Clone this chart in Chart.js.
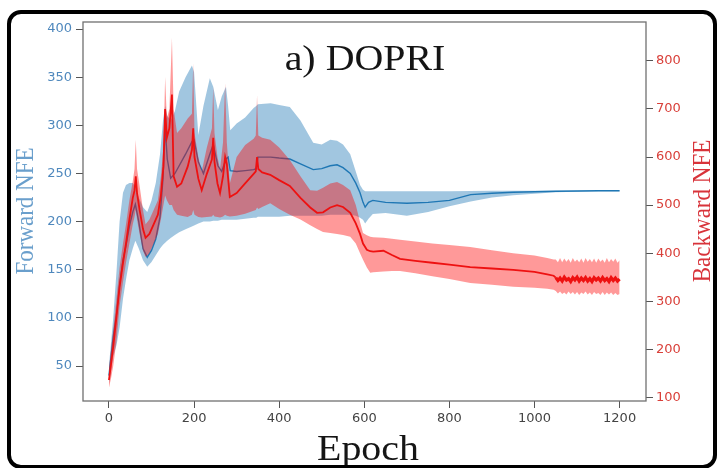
<!DOCTYPE html>
<html><head><meta charset="utf-8">
<script src="https://cdn.jsdelivr.net/npm/chart.js@4.4.1/dist/chart.umd.min.js"></script>
<style>html,body{margin:0;padding:0;background:#fff;}canvas{display:block;}</style>
</head><body>
<canvas id="c" width="718" height="468"></canvas>
<script>
const xTicks = [0, 200, 400, 600, 800, 1000, 1200];
const leftTicks = [50, 100, 150, 200, 250, 300, 350, 400];
const rightTicks = [100, 200, 300, 400, 500, 600, 700, 800];

const fwdEpochs = [0,5,10,18,25,33,40,48,56,62,70,80,90,100,110,120,127,132,137,145,155,165,180,195,200,210,222,237,245,256,265,275,280,285,300,320,340,346,350,380,400,425,450,480,500,520,536,550,567,580,590,597,602,610,620,650,700,750,800,850,900,950,1000,1050,1100,1150,1200];
const fwdMean = [40,60,80,105,135,160,175,195,210,218,200,172,163,170,182,205,245,298,265,245,250,258,270,283,285,262,250,270,280,258,252,265,267,253,252,253,254,255,267,267,266,265,260,254,255,258,259,256,250,240,230,220,215,220,222,220,219,220,222,228,229.5,230.5,231,231.5,231.8,232,232];
const fwdLow = [32,45,60,72,90,120,140,160,172,180,172,160,153,158,165,172,176,178,180,183,186,189,192,195,196,198,200,200,201,201,202,202,202,202,202,203,204,204,205,205,205,206,206,206,206,207,207,207,207,206,204,202,198,203,208,209,206,210,216,221,225,227.5,229,230.5,231,231.5,231.5];
const fwdHigh = [50,75,100,150,200,230,238,240,240,236,225,215,210,222,240,270,305,320,310,305,315,335,350,362,355,290,320,349,340,316,330,340,320,295,302,308,318,320,322,323,321,319,305,282,280,285,284,280,270,252,238,233,231.5,231.5,231.5,231.5,231.5,231.5,231.5,231.8,232,232,232,232,232,232,232];

const bwdEpochs = [0,5,10,18,25,33,40,48,56,60,63,66,72,80,86,95,105,115,122,128,132,136,142,148,152,160,170,185,195,198,201,210,218,230,242,245,248,255,261,268,273,277,284,300,320,340,345,348,351,360,379,400,425,450,473,489,503,520,536,550,567,580,590,597,606,614,621,645,665,684,720,760,800,849,900,950,1000,1030,1045,1050,1055,1060,1065,1070,1075,1080,1085,1090,1095,1100,1105,1110,1115,1120,1125,1130,1135,1140,1145,1150,1155,1160,1165,1170,1175,1180,1185,1190,1195,1200];
const bwdMean = [136,170,205,270,330,380,420,470,515,530,560,525,490,450,432,440,460,480,520,580,700,640,660,730,560,538,545,580,615,660,600,555,531,565,595,640,590,545,525,560,600,585,517,525,545,565,570,600,575,568,563,552,540,515,495,484,485,495,500,496,484,462,440,420,407,404,403,405,396,388,384,380,376,371,368,365,361,356,353,349,343,348,342,350,344,347,341,349,344,350,342,348,343,349,342,347,341,349,344,348,342,349,343,347,341,349,343,348,342,346];
const bwdLow = [120,140,165,220,290,340,380,420,460,475,490,470,440,405,392,400,420,440,470,500,520,510,500,500,490,480,478,475,480,490,480,475,474,475,476,480,476,475,474,476,480,478,476,478,482,488,490,495,492,496,504,492,480,470,458,450,444,442,440,438,434,420,400,386,370,359,360,362,363,363,358,352,346,338,334,330,328,326,324,321,316,320,315,318,314,320,315,319,314,319,313,318,315,320,314,318,313,319,315,317,313,319,313,318,314,318,313,317,313,315];
const bwdHigh = [160,200,240,310,370,420,460,510,550,575,636,575,540,490,460,470,490,510,560,620,767,680,700,848,700,650,660,680,690,796,650,600,570,620,660,746,650,600,575,630,754,630,545,600,625,638,645,729,645,640,636,620,594,560,531,530,536,545,548,542,531,500,465,442,437,434,433,432,430,428,424,420,417,413,406,400,395,390,387,387,381,390,381,389,382,388,380,390,382,387,381,389,380,390,382,388,381,389,380,389,382,387,380,390,381,388,382,389,380,385];

const pts = (xs, ys) => xs.map((x, i) => ({x: x, y: ys[i]}));

function txt(ctx, s, x, y, font, color, rot, align, sx) {
  ctx.save();
  ctx.translate(x, y);
  ctx.scale(sx, 1);
  ctx.rotate(rot);
  ctx.font = font;
  ctx.fillStyle = color;
  ctx.textAlign = align;
  ctx.textBaseline = 'alphabetic';
  ctx.fillText(s, 0, 0);
  ctx.restore();
}

const decor = {
  id: 'decor',
  beforeDraw(chart) {
    const ctx = chart.ctx;
    ctx.save();
    ctx.fillStyle = '#ffffff';
    ctx.fillRect(0, 0, chart.width, chart.height);
    ctx.restore();
  },
  afterDatasetsDraw(chart) {
    const {ctx, chartArea: a} = chart;
    ctx.save();
    ctx.strokeStyle = '#707070';
    ctx.lineWidth = 1.3;
    ctx.strokeRect(a.left, a.top, a.right - a.left, a.bottom - a.top);
    ctx.restore();
  },
  afterDraw(chart) {
    const ctx = chart.ctx;
    const serif = '"Liberation Serif", "Times New Roman", serif';
    txt(ctx, 'a) DOPRI', 365, 70, '35px ' + serif, '#151515', 0, 'center', 1.14);
    txt(ctx, 'Epoch', 368, 460, '35px ' + serif, '#151515', 0, 'center', 1.14);
    txt(ctx, 'Forward NFE', 33, 211, '23px ' + serif, '#6a9fcc', -Math.PI / 2, 'center', 1.14);
    txt(ctx, 'Backward NFE', 710, 211, '23px ' + serif, '#d8333a', -Math.PI / 2, 'center', 1.14);
    ctx.save();
    ctx.strokeStyle = '#000';
    ctx.lineWidth = 4;
    ctx.beginPath();
    ctx.roundRect(9, 12, 706, 455, 12);
    ctx.stroke();
    ctx.restore();
  }
};

const tickFont = {family: '"DejaVu Sans", sans-serif', size: 13};
const plain = v => String(v);

new Chart(document.getElementById('c'), {
  type: 'line',
  data: {
    datasets: [
      {label: 'fwdLow', data: pts(fwdEpochs, fwdLow), yAxisID: 'y', borderColor: 'rgba(0,0,0,0)', borderWidth: 0, pointRadius: 0, fill: false, order: 6},
      {label: 'fwdHigh', data: pts(fwdEpochs, fwdHigh), yAxisID: 'y', borderColor: 'rgba(0,0,0,0)', borderWidth: 0, pointRadius: 0, fill: '-1', backgroundColor: 'rgba(31,119,180,0.42)', order: 5},
      {label: 'Forward NFE', data: pts(fwdEpochs, fwdMean), yAxisID: 'y', borderColor: '#1f77b4', borderWidth: 1.4, pointRadius: 0, fill: false, order: 4},
      {label: 'bwdLow', data: pts(bwdEpochs, bwdLow), yAxisID: 'y2', borderColor: 'rgba(0,0,0,0)', borderWidth: 0, pointRadius: 0, fill: false, order: 3},
      {label: 'bwdHigh', data: pts(bwdEpochs, bwdHigh), yAxisID: 'y2', borderColor: 'rgba(0,0,0,0)', borderWidth: 0, pointRadius: 0, fill: '-1', backgroundColor: 'rgba(255,0,0,0.40)', order: 2},
      {label: 'Backward NFE', data: pts(bwdEpochs, bwdMean), yAxisID: 'y2', borderColor: '#ee1111', borderWidth: 1.8, pointRadius: 0, fill: false, order: 1,
        segment: {borderWidth: c => (c.p0.parsed.x >= 1048 ? 3.2 : 1.8)}}
    ]
  },
  options: {
    responsive: false,
    animation: false,
    events: [],
    layout: {padding: {top: 22, left: 0, right: 0, bottom: 0}},
    plugins: {legend: {display: false}, tooltip: {enabled: false}, title: {display: false}},
    elements: {line: {tension: 0}},
    scales: {
      x: {
        type: 'linear', position: 'bottom', min: -61, max: 1262,
        afterBuildTicks: s => { s.ticks = xTicks.map(v => ({value: v})); },
        afterFit: s => { s.height = 67; },
        grid: {drawOnChartArea: false, drawTicks: true, tickLength: 7, color: '#555', lineWidth: 1},
        border: {display: false},
        ticks: {color: '#444', font: tickFont, padding: 3, maxRotation: 0, autoSkip: false, callback: plain}
      },
      y: {
        type: 'linear', position: 'left', min: 13.7, max: 407.3,
        afterBuildTicks: s => { s.ticks = leftTicks.map(v => ({value: v})); },
        afterFit: s => { s.width = 83; },
        grid: {drawOnChartArea: false, drawTicks: true, tickLength: 7, color: '#555', lineWidth: 1},
        border: {display: false},
        ticks: {color: '#4f88bd', font: tickFont, padding: 4, autoSkip: false, callback: plain}
      },
      y2: {
        type: 'linear', position: 'right', min: 92.3, max: 881,
        afterBuildTicks: s => { s.ticks = rightTicks.map(v => ({value: v})); },
        afterFit: s => { s.width = 72; },
        grid: {drawOnChartArea: false, drawTicks: true, tickLength: 7, color: '#555', lineWidth: 1},
        border: {display: false},
        ticks: {color: '#d9403a', font: tickFont, padding: 3, autoSkip: false, callback: plain}
      }
    }
  },
  plugins: [decor]
});
</script>
</body></html>
